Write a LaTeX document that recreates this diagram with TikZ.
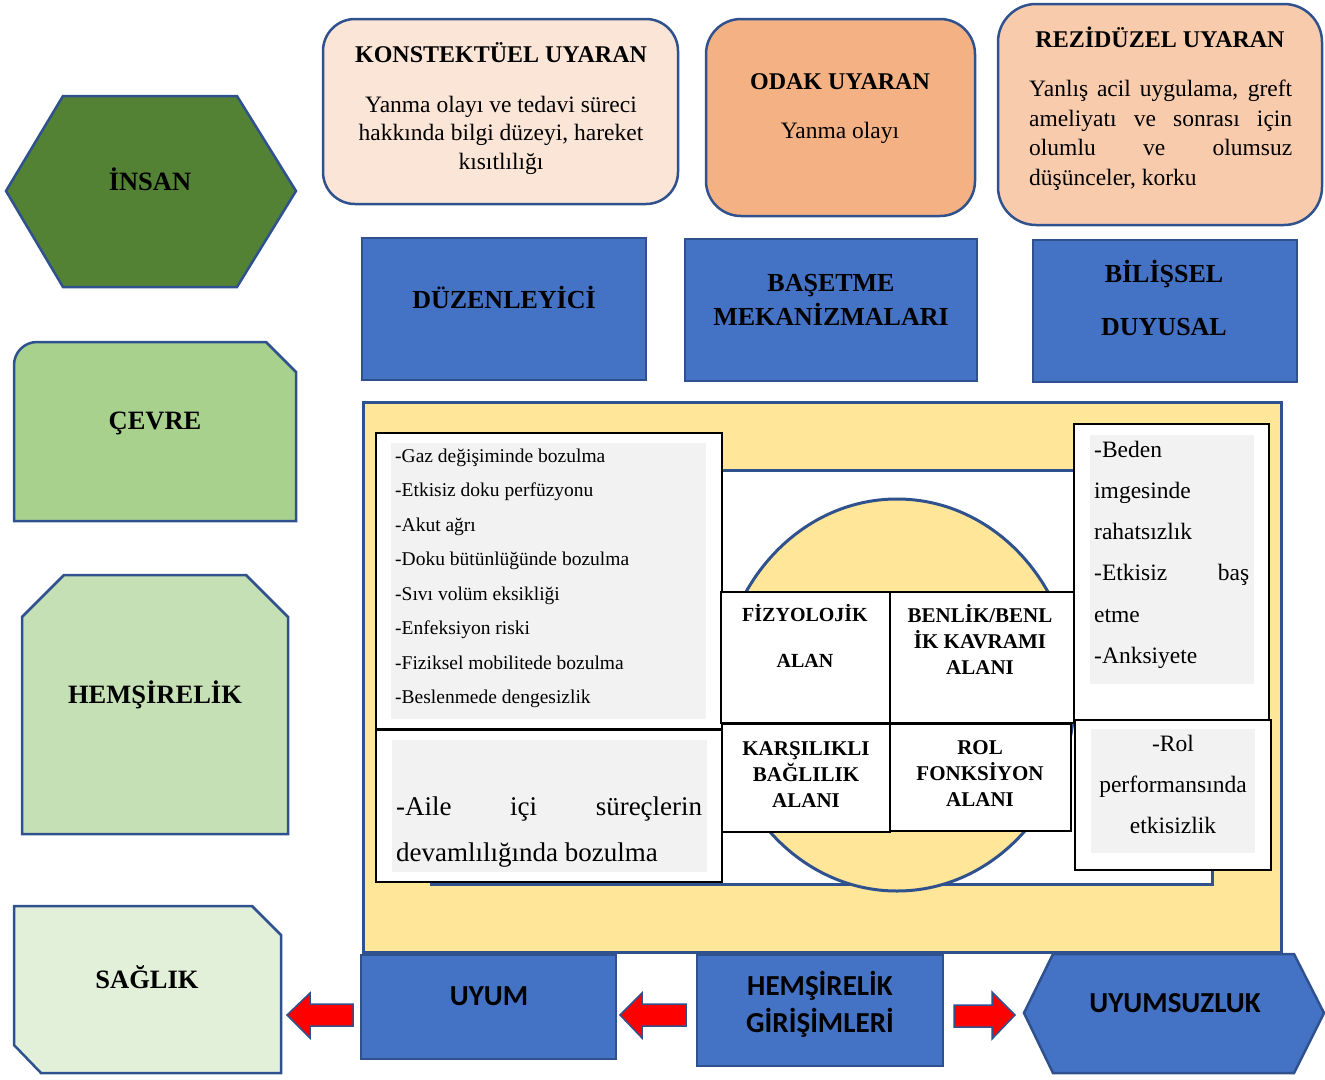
\documentclass[tikz,border=0pt]{standalone}
\usepackage{fontspec}
\setmainfont{Liberation Serif}
\newfontfamily\calib{Carlito}
\definecolor{bord}{HTML}{2F528F}
\definecolor{blueF}{HTML}{4472C4}
\definecolor{gDark}{HTML}{548235}
\definecolor{gMid}{HTML}{A9D18E}
\definecolor{gLight}{HTML}{C5E0B4}
\definecolor{gPale}{HTML}{E2F0D9}
\definecolor{peachA}{HTML}{FBE5D6}
\definecolor{peachB}{HTML}{F4B183}
\definecolor{peachC}{HTML}{F8CBAD}
\definecolor{yel}{HTML}{FFE699}
\definecolor{greyF}{HTML}{F2F2F2}
\newcommand\fLeft{\fontsize{26.5}{30}\selectfont\bfseries}
\newcommand\fTop{\fontsize{24}{28}\selectfont\bfseries}
\newcommand\fBody{\fontsize{23.5}{28}\selectfont}
\newcommand\fBlue{\fontsize{26}{30}\selectfont\bfseries}
\newcommand\fList{\fontsize{19.5}{23}\selectfont}
\newcommand\fAile{\fontsize{27}{31}\selectfont}
\newcommand\fMid{\fontsize{21}{25}\selectfont\bfseries}
\newcommand\fMidS{\fontsize{20}{24}\selectfont\bfseries}
\newcommand\fBot{\calib\fontsize{29}{33}\selectfont\bfseries}
\begin{document}
\begin{tikzpicture}[x=1pt,y=-1pt,
  outl/.style={draw=bord,line width=2.5pt},
  bluebox/.style={outl,fill=blueF},
  wbox/.style={draw=black,line width=1.3pt,fill=white},
  gbox/.style={fill=greyF},
  tx/.style={inner sep=0pt,anchor=base},
  txl/.style={inner sep=0pt,anchor=base west},
  redarrow/.style={fill=red,draw=bord,line width=1.5pt}]
\useasboundingbox (0,0) rectangle (1325,1079);

% ---- left column ----
\draw[outl,fill=gDark] (6,191) -- (63,96) -- (237,96) -- (296,191) -- (237,287) -- (63,287) -- cycle;
\node[tx] (insan) at (150,190) {\fLeft İNSAN};

\draw[outl,fill=gMid] (296,521) -- (14,521) -- (14,365) .. controls (14,352.3) and (24.3,342) .. (37,342) -- (266,342) -- (296,372) -- cycle;
\node[tx] (cevre) at (155,429) {\fLeft ÇEVRE};

\draw[outl,fill=gLight] (22,617) -- (64,575) -- (246,575) -- (288,617) -- (288,834) -- (22,834) -- cycle;
\node[tx] (hems) at (155,703) {\fLeft HEMŞİRELİK};

\draw[outl,fill=gPale] (14,906) -- (252,906) -- (281,935) -- (281,1073) -- (41,1073) -- (14,1045) -- cycle;
\node[tx] (saglik) at (147,988) {\fLeft SAĞLIK};

% ---- top row ----
\draw[outl,fill=peachA,rounded corners=32pt] (323,19) rectangle (678,204);
\node[tx] (konT) at (501,62) {\fTop KONSTEKTÜEL UYARAN};
\node[tx] (konA) at (501,112) {\fBody Yanma olayı ve tedavi süreci};
\node[tx] (konB) at (501,140.5) {\fBody hakkında bilgi düzeyi, hareket};
\node[tx] (konC) at (501,169) {\fBody kısıtlılığı};

\draw[outl,fill=peachB,rounded corners=35pt] (706,19) rectangle (975,216);
\node[tx] (odT) at (840,89) {\fTop ODAK UYARAN};
\node[tx] (odA) at (840,138) {\fBody Yanma olayı};

\draw[outl,fill=peachC,rounded corners=38pt] (998,4) rectangle (1322,225);
\node[tx] (rzT) at (1160,47) {\fTop REZİDÜZEL UYARAN};
\node[txl] (rzA) at (1029,96.5) {\fBody\makebox[263pt][s]{Yanlış acil uygulama, greft}};
\node[txl] (rzB) at (1029,126) {\fBody\makebox[263pt][s]{ameliyatı ve sonrası için}};
\node[txl] (rzC) at (1029,155.5) {\fBody\makebox[263pt][s]{olumlu ve olumsuz}};
\node[txl] (rzD) at (1029,185) {\fBody düşünceler, korku};

% ---- blue boxes ----
\draw[bluebox] (362,238) rectangle (646,380);
\node[tx] (duz) at (504,308) {\fBlue DÜZENLEYİCİ};
\draw[bluebox] (685,239) rectangle (977,381);
\node[tx] (basA) at (831,291) {\fBlue BAŞETME};
\node[tx] (basB) at (831,325) {\fBlue MEKANİZMALARI};
\draw[bluebox] (1033,240) rectangle (1297,382);
\node[tx] (bilA) at (1164,282) {\fBlue BİLİŞSEL};
\node[tx] (bilB) at (1164,335) {\fBlue DUYUSAL};

% ---- central system ----
\draw[draw=bord,line width=3pt,fill=yel] (363,402) rectangle (1281,952);
\draw[draw=bord,line width=3pt,fill=white] (431,470) rectangle (1212,884);
\draw[draw=bord,line width=3pt,fill=yel] (897,695) ellipse [x radius=177.5, y radius=196];

% left list
\draw[wbox] (376,433) rectangle (722,729);
\fill[gbox] (391,443) rectangle (706,719);
\node[txl] (l1) at (395,462) {\fList -Gaz değişiminde bozulma};
\node[txl] (l2) at (395,496.5) {\fList -Etkisiz doku perfüzyonu};
\node[txl] (l3) at (395,531) {\fList -Akut ağrı};
\node[txl] (l4) at (395,565.5) {\fList -Doku bütünlüğünde bozulma};
\node[txl] (l5) at (395,600) {\fList -Sıvı volüm eksikliği};
\node[txl] (l6) at (395,634.5) {\fList -Enfeksiyon riski};
\node[txl] (l7) at (395,669) {\fList -Fiziksel mobilitede bozulma};
\node[txl] (l8) at (395,703.5) {\fList -Beslenmede dengesizlik};

\draw[wbox] (376,730) rectangle (722,882);
\fill[gbox] (392,740) rectangle (707,872);
\node[txl] (aA) at (396,815) {\fAile\makebox[306pt][s]{-Aile içi süreçlerin}};
\node[txl] (aB) at (396,861) {\fAile devamlılığında bozulma};

% four domains
\draw[wbox] (721,592) rectangle (890,723);
\node[tx] (fzA) at (805,621) {\fMidS FİZYOLOJİK};
\node[tx] (fzB) at (805,667) {\fMidS ALAN};
\draw[wbox] (890,592) rectangle (1076,723);
\node[tx] (bnA) at (980,622) {\fMid BENLİK/BENL};
\node[tx] (bnB) at (980,648) {\fMid İK KAVRAMI};
\node[tx] (bnC) at (980,674) {\fMid ALANI};
\draw[wbox] (722,724) rectangle (890,832);
\node[tx] (kbA) at (806,755) {\fMid KARŞILIKLI};
\node[tx] (kbB) at (806,781) {\fMid BAĞLILIK};
\node[tx] (kbC) at (806,807) {\fMid ALANI};
\draw[wbox] (890,724) rectangle (1071,831);
\node[tx] (rfA) at (980,754) {\fMid ROL};
\node[tx] (rfB) at (980,780) {\fMid FONKSİYON};
\node[tx] (rfC) at (980,806) {\fMid ALANI};

% right boxes
\draw[wbox] (1074,424) rectangle (1269,722);
\fill[gbox] (1090,435) rectangle (1254,684);
\node[txl] (bd1) at (1094,457) {\fBody -Beden};
\node[txl] (bd2) at (1094,498.3) {\fBody imgesinde};
\node[txl] (bd3) at (1094,539.6) {\fBody rahatsızlık};
\node[txl] (bd4) at (1094,580.9) {\fBody\makebox[155pt][s]{-Etkisiz baş}};
\node[txl] (bd5) at (1094,622.2) {\fBody etme};
\node[txl] (bd6) at (1094,663.5) {\fBody -Anksiyete};

\draw[wbox] (1075,720) rectangle (1271,870);
\fill[gbox] (1091,729) rectangle (1255,853);
\node[tx] (ro1) at (1173,751) {\fBody -Rol};
\node[tx] (ro2) at (1173,792) {\fBody performansında};
\node[tx] (ro3) at (1173,833) {\fBody etkisizlik};

% ---- bottom row ----
\draw[bluebox] (361,955) rectangle (616,1059);
\node[tx] (uyum) at (489,1005) {\fBot UYUM};
\draw[bluebox] (697,955) rectangle (943,1066);
\node[tx] (hgA) at (820,995) {\fBot HEMŞİRELİK};
\node[tx] (hgB) at (820,1032) {\fBot GİRİŞİMLERİ};
\draw[bluebox] (1024,1013) -- (1053,954) -- (1294,954) -- (1324,1013) -- (1294,1073) -- (1053,1073) -- cycle;
\node[tx] (uyms) at (1175,1012) {\fBot UYUMSUZLUK};

\draw[redarrow] (287,1015) -- (310,993) -- (310,1004) -- (353,1004) -- (353,1026) -- (310,1026) -- (310,1038) -- cycle;
\draw[redarrow] (620,1015) -- (642,993) -- (642,1004) -- (686,1004) -- (686,1026) -- (642,1026) -- (642,1038) -- cycle;
\draw[redarrow] (954,1005) -- (992,1005) -- (992,992) -- (1015,1015) -- (992,1039) -- (992,1027) -- (954,1027) -- cycle;
\end{tikzpicture}
\end{document}
